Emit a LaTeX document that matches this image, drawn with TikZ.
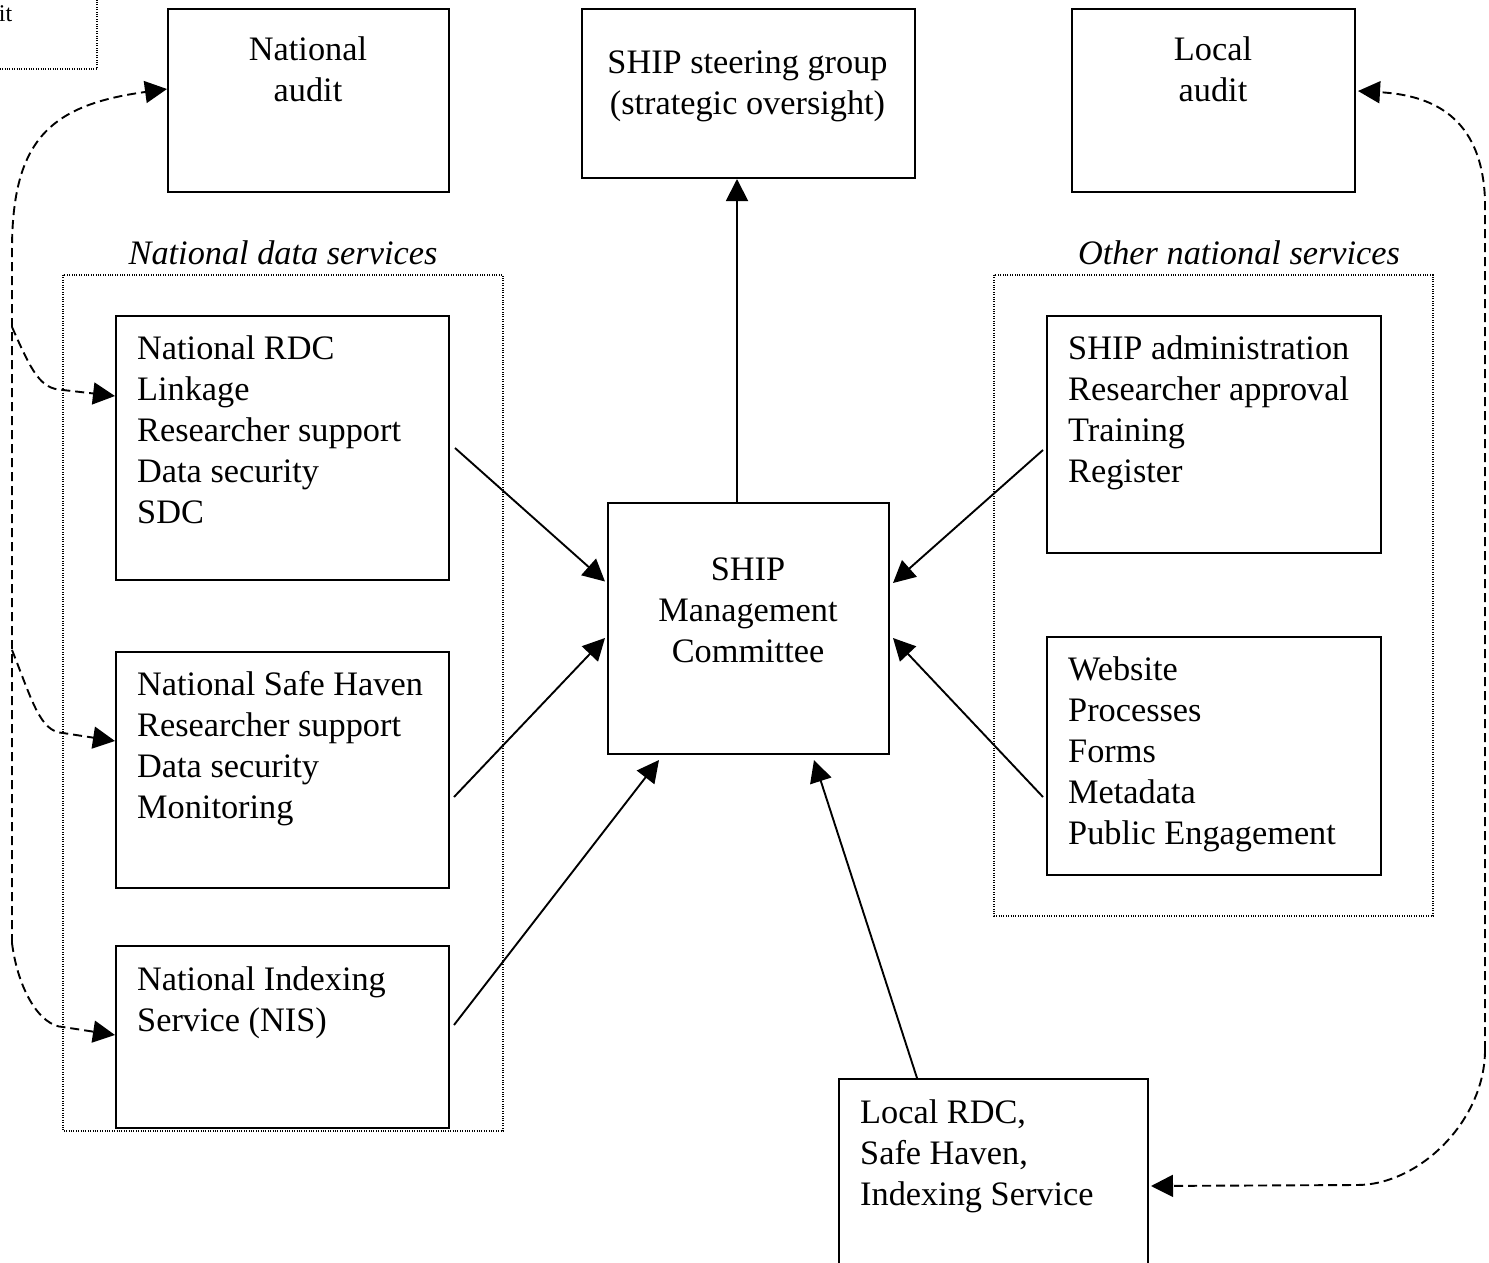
\documentclass[tikz,border=0pt]{standalone}
\usepackage{fontspec}
\setmainfont{Liberation Serif}
\usetikzlibrary{arrows.meta}
\tikzset{
  txt/.style={inner sep=0pt, font=\fontsize{34.3}{41}\selectfont},
  ltxt/.style={txt, anchor=north west, align=left},
  ctxt/.style={txt, anchor=north, align=center},
  box/.style={draw, line width=2pt, inner sep=0pt, anchor=north west},
  grp/.style={draw, line width=1.1pt, dash pattern=on 1pt off 1.4pt},
  arr/.style={line width=1.9pt, -{Triangle[length=22pt,width=22pt]}},
  darr/.style={line width=1.9pt, dash pattern=on 9pt off 5pt, -{Triangle[length=22pt,width=22pt]}},
}
\begin{document}
\begin{tikzpicture}[x=1pt,y=-1pt]
\useasboundingbox (0,0) rectangle (1489,1263);
% small fragment box top-left
\draw[grp] (-10,-10) rectangle (97,69);
\node[inner sep=0pt, anchor=base east, font=\fontsize{24}{28}\selectfont] (frag) at (12.5,21.5) {it};
% top boxes
\node[box, minimum width=281pt, minimum height=183pt] (natAudit) at (167,8) {};
\node[ctxt] (natAuditT) at (308,37) {National\\audit};
\node[box, minimum width=333pt, minimum height=169pt] (steer) at (581,8) {};
\node[ctxt] (steerT) at (747.5,51) {SHIP steering group\\(strategic oversight)};
\node[box, minimum width=283pt, minimum height=183pt] (locAudit) at (1071,8) {};
\node[ctxt] (locAuditT) at (1213,37) {Local\\audit};
% group labels and dotted frames
\node[txt, anchor=base, font=\fontsize{34.3}{41}\selectfont\itshape] (ndsL) at (283,264) {National data services};
\draw[grp] (63,275) rectangle (503,1131);
\node[txt, anchor=base, font=\fontsize{34.3}{41}\selectfont\itshape] (onsL) at (1239,264) {Other national services};
\draw[grp] (994,275) rectangle (1433,916);
% left boxes
\node[box, minimum width=333pt, minimum height=264pt] (rdc) at (115,315) {};
\node[ltxt] (rdcT) at (137,335.6) {National RDC\\Linkage\\Researcher support\\Data security\\SDC};
\node[box, minimum width=333pt, minimum height=236pt] (haven) at (115,651) {};
\node[ltxt] (havenT) at (137,671.6) {National Safe Haven\\Researcher support\\Data security\\Monitoring};
\node[box, minimum width=333pt, minimum height=182pt] (nis) at (115,945) {};
\node[ltxt] (nisT) at (137,966.6) {National Indexing\\Service (NIS)};
% right boxes
\node[box, minimum width=334pt, minimum height=237pt] (admin) at (1046,315) {};
\node[ltxt] (adminT) at (1068,335.6) {SHIP administration\\Researcher approval\\Training\\Register};
\node[box, minimum width=334pt, minimum height=238pt] (web) at (1046,636) {};
\node[ltxt] (webT) at (1068,656.6) {Website\\Processes\\Forms\\Metadata\\Public Engagement};
% centre
\node[box, minimum width=281pt, minimum height=251pt] (mgmt) at (607,502) {};
\node[ctxt] (mgmtT) at (748,557.6) {SHIP\\Management\\Committee};
% local
\node[box, minimum width=309pt, minimum height=197pt] (local) at (838,1078) {};
\node[ltxt] (localT) at (860,1099.6) {Local RDC,\\Safe Haven,\\Indexing Service};
% solid arrows
\draw[arr] ([xshift=-11.5pt]mgmt.north) -- ([xshift=-11.5pt]steer.south);
\draw[arr] ([xshift=5pt]rdc.east) -- ([shift={(-2pt,47pt)}]mgmt.west);
\draw[arr] ([shift={(4pt,-27pt)}]haven.east) -- ([shift={(-2pt,-9.5pt)}]mgmt.west);
\draw[arr] ([shift={(4pt,12pt)}]nis.east) -- ([shift={(-89.5pt,-5pt)}]mgmt.south);
\draw[arr] ([xshift=-76.5pt]local.north) -- ([shift={(65.5pt,-5pt)}]mgmt.south);
\draw[arr] ([shift={(-3pt,-15.5pt)}]admin.west) -- ([shift={(3pt,45.5pt)}]mgmt.east);
\draw[arr] ([shift={(-3pt,-41pt)}]web.west) -- ([shift={(3pt,-9.5pt)}]mgmt.east);
% dashed left
\coordinate (lb) at (12,943);
\coordinate (lt) at (12,250);
\coordinate (l1) at (12,327);
\coordinate (l2) at (12,650);
\draw[darr] (lb) -- (lt) .. controls (12,140) and (50,105) .. ([yshift=11.5pt]natAudit.west);
\draw[darr] (l1) .. controls (32,372) and (40,389) .. (63,390) -- ([yshift=52pt]rdc.west);
\draw[darr] (l2) .. controls (32,700) and (40,732) .. (63,733) -- ([yshift=29pt]haven.west);
\draw[darr] (lb) .. controls (18,990) and (40,1026) .. (63,1027) -- ([yshift=2pt]nis.west);
% dashed right
\coordinate (rb) at (1485,1050);
\coordinate (rt) at (1485,200);
\draw[darr] (rb) -- (rt) .. controls (1482,115) and (1430,95) .. ([shift={(2pt,9.5pt)}]locAudit.east);
\draw[darr] (rb) .. controls (1485,1120) and (1420,1185) .. (1357,1185) -- ([shift={(2pt,-8.5pt)}]local.east);
\end{tikzpicture}
\end{document}
